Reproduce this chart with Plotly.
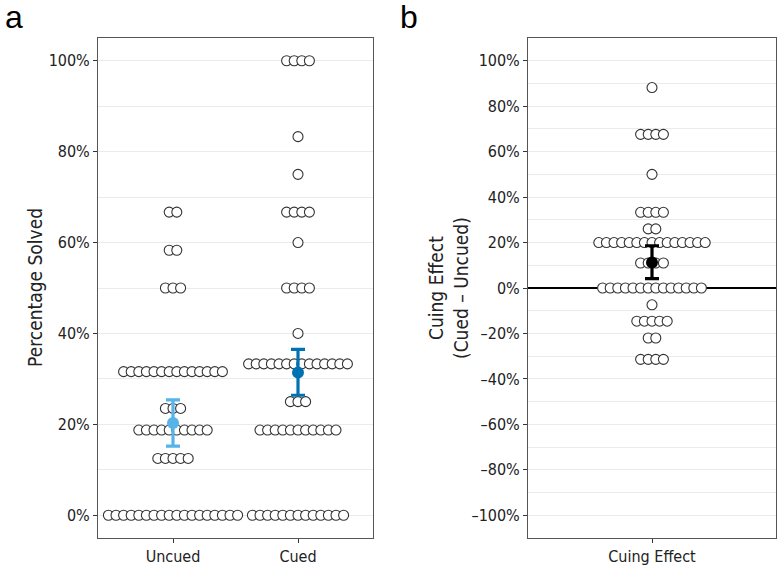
import plotly.graph_objects as go

# ---------------- data ----------------
uncued_levels = [0, 12.5, 18.75, 23.5, 31.6, 50, 58.3, 66.7]
uncued_counts = [18, 5, 10, 3, 14, 3, 2, 2]
cued_levels = [0, 18.75, 25, 33.3, 40, 50, 60, 66.7, 75, 83.3, 100]
cued_counts = [13, 11, 3, 14, 1, 4, 1, 4, 1, 1, 4]
effect_levels = [-31.4, -22, -14.6, -7.4, 0, 11, 20, 26, 33.3, 50, 67.6, 88.2]
effect_counts = [4, 2, 5, 1, 14, 4, 15, 2, 4, 1, 4, 1]

groups = ["Uncued", "Cued"]
group_means = [20.3, 31.4]
group_lower = [15.2, 26.4]
group_upper = [25.4, 36.5]
group_colors = ["#56B4E9", "#0072B2"]

effect_label = ["Cuing Effect"]
effect_mean = [11.2]
effect_lower = [4.1]
effect_upper = [18.6]

a_ticks = [0, 20, 40, 60, 80, 100]
b_ticks = [-100, -80, -60, -40, -20, 0, 20, 40, 60, 80, 100]


def pct_label(v):
    return ("\u2013" if v < 0 else "") + f"{abs(v)}%"


a_ticktext = [pct_label(v) for v in a_ticks]
b_ticktext = [pct_label(v) for v in b_ticks]

# ---------------- layout geometry ----------------
W, H = 778, 572
LA, RA = 98, 373
LB, RB = 528, 776
T, B = 38, 538
XR_A = [0.4, 2.6]
XR_B = [0.4, 1.6]
STEP_PX = 7.6
step_a = STEP_PX / ((RA - LA) / (XR_A[1] - XR_A[0]))
step_b = STEP_PX / ((RB - LB) / (XR_B[1] - XR_B[0]))


def stack(levels, counts, center, step):
    xs, ys = [], []
    for v, n in zip(levels, counts):
        for i in range(n):
            xs.append(center + (i - (n - 1) / 2) * step)
            ys.append(v)
    return xs, ys


FONT = "Liberation Sans Narrow, DejaVu Sans Condensed, Arial Narrow, Liberation Sans, sans-serif"
dot_marker = dict(symbol="circle", size=10, color="white",
                  line=dict(color="#333333", width=1.1))

fig = go.Figure()

for k, (lv, ct) in enumerate([(uncued_levels, uncued_counts), (cued_levels, cued_counts)]):
    xs, ys = stack(lv, ct, k + 1, step_a)
    fig.add_trace(go.Scatter(x=xs, y=ys, mode="markers", marker=dot_marker,
                             xaxis="x", yaxis="y", showlegend=False))

xs, ys = stack(effect_levels, effect_counts, 1, step_b)
fig.add_trace(go.Scatter(x=xs, y=ys, mode="markers", marker=dot_marker,
                         xaxis="x2", yaxis="y2", showlegend=False))

for k in range(2):
    fig.add_trace(go.Scatter(
        x=[k + 1], y=[group_means[k]], mode="markers",
        marker=dict(size=12, color=group_colors[k]),
        error_y=dict(type="data", symmetric=False,
                     array=[group_upper[k] - group_means[k]],
                     arrayminus=[group_means[k] - group_lower[k]],
                     color=group_colors[k], thickness=3.2, width=7),
        xaxis="x", yaxis="y", showlegend=False))

fig.add_trace(go.Scatter(
    x=[1], y=effect_mean, mode="markers",
    marker=dict(size=12, color="black"),
    error_y=dict(type="data", symmetric=False,
                 array=[effect_upper[0] - effect_mean[0]],
                 arrayminus=[effect_mean[0] - effect_lower[0]],
                 color="black", thickness=3.2, width=7),
    xaxis="x2", yaxis="y2", showlegend=False))

grid = "#ebebeb"
line_c = "#555555"
tickfont = dict(family=FONT, size=16, color="#222222")

common_y = dict(showline=True, mirror=True, linecolor=line_c, linewidth=1,
                ticks="outside", ticklen=4, tickcolor="#333333",
                showgrid=True, gridcolor=grid, gridwidth=1,
                tickfont=tickfont, zeroline=False, tickmode="array",
                minor=dict(dtick=10, tick0=0, showgrid=True, gridcolor=grid, gridwidth=1, ticklen=0))
common_x = dict(showline=True, mirror=True, linecolor=line_c, linewidth=1,
                ticks="outside", ticklen=4, tickcolor="#333333",
                showgrid=False, zeroline=False, tickfont=tickfont, tickmode="array")

fig.update_layout(
    width=W, height=H,
    margin=dict(l=0, r=W - RB, t=T, b=H - B),
    plot_bgcolor="white", paper_bgcolor="white",
    xaxis=dict(domain=[LA / RB, RA / RB], range=XR_A,
               tickvals=[1, 2], ticktext=groups, **common_x),
    yaxis=dict(anchor="x", range=[-5, 105], tickvals=a_ticks, ticktext=a_ticktext, **common_y),
    xaxis2=dict(domain=[LB / RB, 1.0], range=XR_B,
                tickvals=[1], ticktext=effect_label, **common_x),
    yaxis2=dict(anchor="x2", range=[-110, 110], tickvals=b_ticks, ticktext=b_ticktext, **common_y),
)
fig.update_layout(yaxis2_zeroline=True, yaxis2_zerolinecolor="black", yaxis2_zerolinewidth=1.5)

ph = B - T
def py(px_y):
    return (B - px_y) / ph
def px(px_x):
    return px_x / RB

fig.add_annotation(text="Percentage Solved", x=px(35), y=py(288), xref="paper", yref="paper",
                   textangle=-90, showarrow=False, xanchor="center", yanchor="middle",
                   font=dict(family=FONT, size=19, color="#222222"))
fig.add_annotation(text="Cuing Effect<br>(Cued – Uncued)", x=px(448), y=py(288), xref="paper", yref="paper",
                   textangle=-90, showarrow=False, xanchor="center", yanchor="middle",
                   font=dict(family=FONT, size=19, color="#222222"))
fig.add_annotation(text="a", x=px(3), y=py(17), xref="paper", yref="paper",
                   showarrow=False, xanchor="left", yanchor="middle",
                   font=dict(family="Liberation Sans, Arial, sans-serif", size=32, color="black"))
fig.add_annotation(text="b", x=px(398), y=py(17), xref="paper", yref="paper",
                   showarrow=False, xanchor="left", yanchor="middle",
                   font=dict(family="Liberation Sans, Arial, sans-serif", size=32, color="black"))

fig.write_html("out.html", config={"displayModeBar": False},
               post_script="document.body.style.margin='0px';")
